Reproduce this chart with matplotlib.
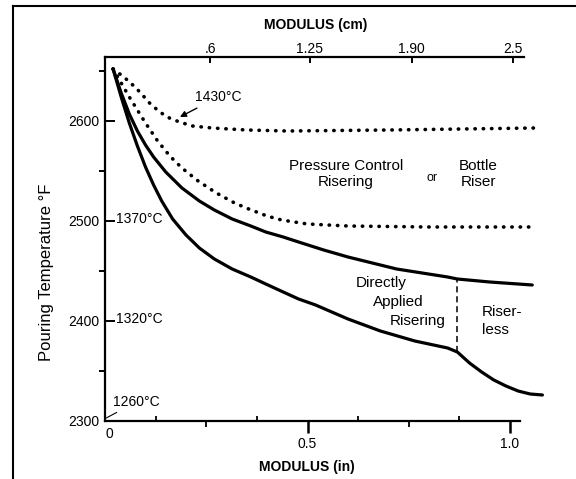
import matplotlib
matplotlib.use("Agg")
import matplotlib.pyplot as plt
from matplotlib.lines import Line2D

plt.rcParams['font.family'] = ['Liberation Sans', 'DejaVu Sans']

# modulus (in) vs pouring temperature (F)
x_top_dotted = [0.02, 0.04, 0.061, 0.086, 0.110, 0.135, 0.159, 0.184, 0.216, 0.265, 0.35, 0.45, 0.7, 1.06]
t_top_dotted = [2652, 2646, 2639, 2629, 2618, 2609, 2603, 2599, 2595, 2593, 2591, 2590, 2591, 2593]

x_mid_dotted = [0.02, 0.04, 0.06, 0.08, 0.10, 0.13, 0.16, 0.19, 0.23, 0.275, 0.32, 0.355, 0.4, 0.436,
                0.5, 0.6, 0.8, 1.055]
t_mid_dotted = [2652, 2638, 2624, 2611, 2598, 2580, 2565, 2553, 2540, 2528, 2518, 2512, 2505, 2501,
                2497, 2495, 2494, 2494]

x_mid_solid = [0.02, 0.04, 0.06, 0.08, 0.10, 0.12, 0.15, 0.19, 0.233, 0.27, 0.314, 0.36, 0.397, 0.44,
               0.478, 0.54, 0.6, 0.72, 0.846, 0.87, 0.95, 1.055]
t_mid_solid = [2652, 2628, 2607, 2590, 2576, 2564, 2549, 2533, 2520, 2511, 2502, 2495, 2489, 2484,
               2479, 2471, 2464, 2452, 2444, 2442, 2439, 2436]

x_low_solid = [0.02, 0.04, 0.06, 0.08, 0.10, 0.12, 0.14, 0.167, 0.20, 0.233, 0.27, 0.314, 0.36, 0.397,
               0.44, 0.478, 0.52, 0.60, 0.68, 0.765, 0.846, 0.87, 0.90, 0.93, 0.96, 0.99, 1.02, 1.05, 1.08]
t_low_solid = [2652, 2624, 2598, 2575, 2554, 2536, 2520, 2502, 2486, 2473, 2462, 2452, 2444, 2437,
               2429, 2422, 2416, 2402, 2390, 2380, 2373, 2369, 2358, 2349, 2341, 2335, 2330, 2327, 2326]

riser_limit_x = [0.87, 0.87]
riser_limit_t = [2369, 2442]

y_ticks = [2300, 2400, 2500, 2600]
y_minor = [2350, 2450, 2550, 2650]
x_ticks = [0.5, 1.0]
x_ticks_out = [0.25, 0.75]
x_ticks_in = [0.125, 0.375, 0.625, 0.875]
cm_pos = [0.26, 0.505, 0.757, 1.007]
cm_labels = ['.6', '1.25', '1.90', '2.5']
celsius = [(2400, '1320°C'), (2500, '1370°C')]

W, H = 576, 479
fig = plt.figure(figsize=(W / 100, H / 100), dpi=100)
ax = fig.add_axes([105 / W, 58 / H, 441 / W, 364 / H])
ax.set_xlim(0, 441 / 405)
ax.set_ylim(2300, 2664)

dots = dict(color='black', lw=2.6, linestyle=(0, (0.1, 2.2)), dash_capstyle='round')
ax.plot(x_top_dotted, t_top_dotted, **dots)
ax.plot(x_mid_dotted, t_mid_dotted, **dots)
ax.plot(x_mid_solid, t_mid_solid, color='black', lw=2.3, solid_capstyle='round', solid_joinstyle='round')
ax.plot(x_low_solid, t_low_solid, color='black', lw=2.3, solid_capstyle='round', solid_joinstyle='round')
ax.plot(riser_limit_x, riser_limit_t, color='black', lw=1.1, linestyle=(0, (4, 2.5)))

# axes
for s in ['right', 'top']:
    ax.spines[s].set_visible(False)
ax.spines['left'].set_linewidth(1.6)
ax.spines['bottom'].set_linewidth(1.6)
ax.spines['bottom'].set_bounds(0, 1.025)

ax.set_yticks(y_ticks, [str(v) for v in y_ticks])
ax.set_yticks(y_minor, minor=True)
ax.tick_params(axis='y', which='major', direction='in', length=7, width=1.4, labelsize=10, pad=4)
ax.tick_params(axis='y', which='minor', direction='out', length=4.5, width=1.4)

ax.set_xticks(x_ticks, ['0.5', '1.0'])
ax.set_xticks(x_ticks_out, minor=True)
ax.tick_params(axis='x', which='major', direction='out', length=8.5, width=1.8, labelsize=10, pad=3)
ax.tick_params(axis='x', which='minor', direction='out', length=4.5, width=1.3)
ax.text(0.01, -0.016, '0', transform=ax.get_xaxis_transform(), ha='center', va='top', fontsize=10)

inner = ax.secondary_xaxis(0.0)
inner.set_xticks(x_ticks_in, ['' for _ in x_ticks_in])
inner.tick_params(direction='in', length=3.5, width=1.3)
inner.spines['bottom'].set_visible(False)

top = ax.secondary_xaxis('top')
top.set_xticks(cm_pos, cm_labels)
top.tick_params(direction='in', length=4.5, width=1.4, labelsize=10, pad=1)
top.spines['top'].set_linewidth(1.6)
top.spines['top'].set_bounds(0, 1.035)

for t, lab in celsius:
    ax.text(0.028, t + 2, lab, ha='left', va='center', fontsize=10)
ax.annotate('1260°C', xy=(0.003, 2303), xytext=(0.02, 2319), ha='left', va='center', fontsize=10,
            arrowprops=dict(arrowstyle='-', lw=0.8, color='black', shrinkA=1, shrinkB=0))
ax.annotate('1430°C', xy=(0.185, 2604), xytext=(0.279, 2624), ha='center', va='center', fontsize=10,
            arrowprops=dict(arrowstyle='-|>', lw=1.0, color='black', mutation_scale=9, shrinkA=2, shrinkB=0))

ax.text(0.595, 2547, 'Pressure Control\nRisering', ha='center', va='center', fontsize=11, linespacing=1.15)
ax.text(0.807, 2543, 'or', ha='center', va='center', fontsize=9)
ax.text(0.921, 2547, 'Bottle\nRiser', ha='center', va='center', fontsize=11, linespacing=1.15)
ax.text(0.681, 2438, 'Directly', ha='center', va='center', fontsize=11)
ax.text(0.723, 2419, 'Applied', ha='center', va='center', fontsize=11)
ax.text(0.773, 2400, 'Risering', ha='center', va='center', fontsize=11)
ax.text(0.931, 2409, 'Riser-', ha='left', va='center', fontsize=11)
ax.text(0.931, 2391, 'less', ha='left', va='center', fontsize=11)

fig.text(316 / W, 1 - 25 / H, 'MODULUS (cm)', ha='center', va='center', fontsize=10, fontweight='bold')
fig.text(307 / W, 1 - 467 / H, 'MODULUS (in)', ha='center', va='center', fontsize=10, fontweight='bold')
fig.text(47 / W, 1 - 272 / H, 'Pouring Temperature °F', ha='center', va='center', rotation=90, fontsize=12)

# scanned page frame
fig.add_artist(Line2D([13 / W, 13 / W], [0, 1 - 6 / H], color='black', lw=1.5, transform=fig.transFigure))
fig.add_artist(Line2D([13 / W, 1], [1 - 6 / H, 1 - 6 / H], color='black', lw=1.5, transform=fig.transFigure))

plt.savefig('out.png', format='png', dpi=100)
